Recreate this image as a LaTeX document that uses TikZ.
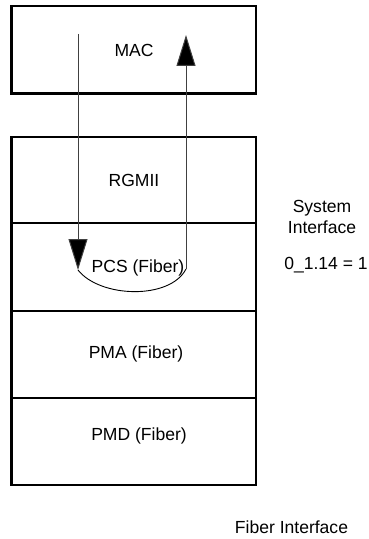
\documentclass[tikz,border=0pt]{standalone}
\usepackage{fontspec}
\setmainfont{Liberation Sans}
\usetikzlibrary{arrows.meta}
\begin{document}
\begin{tikzpicture}[x=1bp,y=-1bp,
  layer/.style={draw=black,line width=2.3bp,inner sep=0pt,minimum width=244.5bp},
  lbl/.style={font=\fontsize{17.6}{21}\selectfont,inner sep=0pt,align=center},
  flow/.style={draw=black!75,line width=1bp,-{Triangle[length=31bp,width=19bp,fill=black]}}]
\useasboundingbox (0,0) rectangle (368,539);
\fill[white] (0,0) rectangle (368,539);
% boxes
\node[layer,minimum height=87.5bp] (mac) at (133.75,49.75) {};
\node[layer,minimum height=86bp] (rgmii) at (133.75,180) {};
\node[layer,minimum height=88bp] (pcs) at (133.75,267) {};
\node[layer,minimum height=87bp] (pma) at (133.75,354.5) {};
\node[layer,minimum height=87bp] (pmd) at (133.75,441.5) {};
% texts
\node[lbl] (tmac) at (134,50) {MAC};
\node[lbl] (trgmii) at (134,180) {RGMII};
\node[lbl] (tpcs) at (138,268) {PCS (Fiber)};
\node[lbl] (tpma) at (136,354) {PMA (Fiber)};
\node[lbl] (tpmd) at (139,436) {PMD (Fiber)};
\node[lbl] (sys) at (322,217) {System\\Interface};
\node[lbl] (reg) at (326,265) {0\_1.14 = 1};
\node[lbl] (fib) at (291.5,527) {Fiber Interface};
% flow path
\coordinate (dtop) at (78,34);
\coordinate (dbot) at (78,270);
\coordinate (ubot) at (186,269);
\coordinate (utop) at (186,35);
\draw[flow] (dtop) -- (dbot);
\draw[black,line width=0.9bp] (dbot) .. controls (100,298) and (170,300) .. (ubot);
\draw[flow] (ubot) -- (utop);
\end{tikzpicture}
\end{document}
